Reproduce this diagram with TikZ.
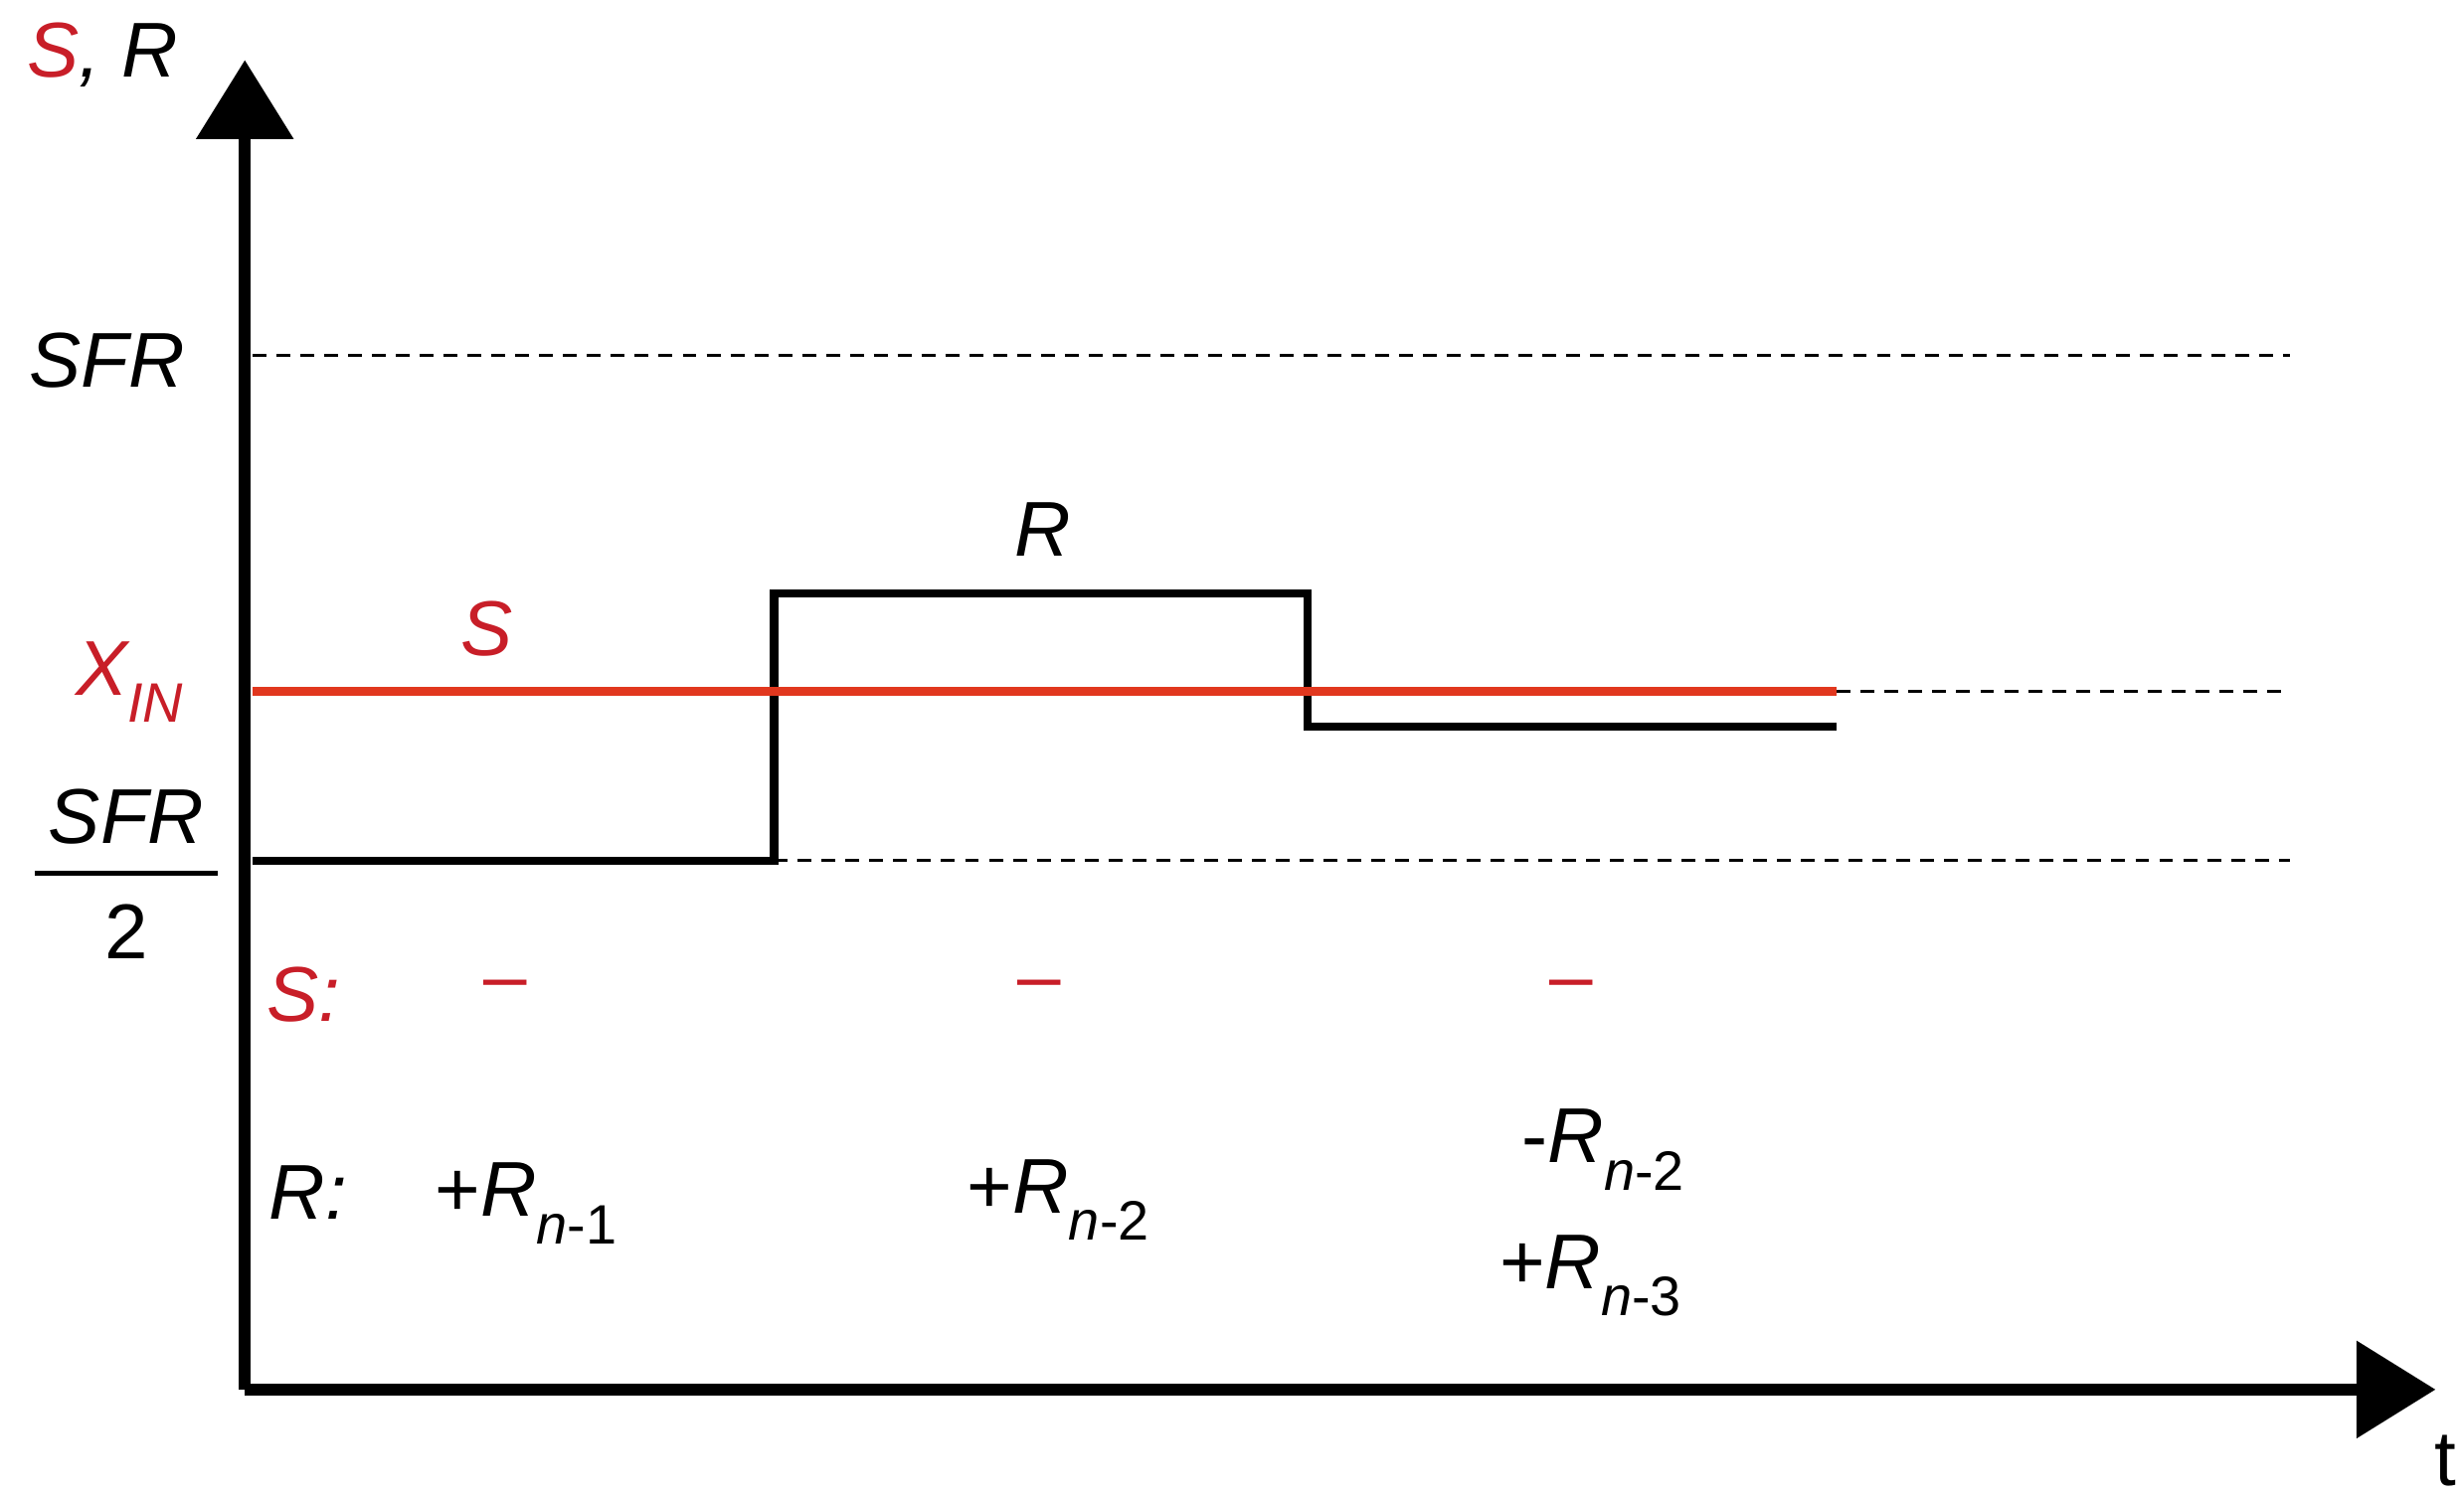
\documentclass[tikz,border=0pt]{standalone}
\usepackage{fontspec}
\setmainfont{Liberation Sans}
\usetikzlibrary{arrows.meta}
\definecolor{sred}{RGB}{200,30,40}
\definecolor{lred}{RGB}{225,55,30}
\begin{document}
\begin{tikzpicture}[x=0.01cm,y=-0.01cm,
  lab/.style={font=\fontsize{14}{16}\selectfont\itshape, inner sep=0pt},
  axis/.style={line width=2.1pt, -{Triangle[length=0.5cm,width=0.6cm]}},
  dsh/.style={line width=0.5pt, dash pattern=on 2.5pt off 1.8pt},
  rl/.style={line width=1.5pt},
  sl/.style={line width=1.6pt, lred}]
\useasboundingbox (0,0) rectangle (1560,948.7);
\coordinate (O) at (155,880);
\coordinate (Ytop) at (155,38);
\coordinate (Xend) at (1542,880);
\draw[axis] (O) -- (Ytop);
\draw[axis] (O) -- (Xend);
% dashed
\coordinate (a1) at (160,225); \coordinate (a2) at (1450,225);
\coordinate (b1) at (1163,438); \coordinate (b2) at (1450,438);
\coordinate (c1) at (490,545); \coordinate (c2) at (1450,545);
\draw[dsh] (a1) -- (a2);
\draw[dsh] (b1) -- (b2);
\draw[dsh] (c1) -- (c2);
% R line
\coordinate (r0) at (160,545);
\coordinate (r1) at (490,545);
\coordinate (r2) at (490,376);
\coordinate (r3) at (828,376);
\coordinate (r4) at (828,460);
\coordinate (r5) at (1163,460);
\draw[rl] (r0) -- (r1) -- (r2) -- (r3) -- (r4) -- (r5);
% S line
\coordinate (s0) at (160,438);
\draw[sl] (s0) -- (b1);
% labels
\node[lab] (lSR) at (65,35) {\textcolor{sred}{S}, R};
\node[lab] (lSFR) at (68,228) {SFR};
\node[lab, text=sred] (lXIN) at (82,432) {X\raisebox{-0.35em}{\fontsize{10}{12}\selectfont IN}};
\node[lab] (lSFRt) at (80,517) {SFR};
\node[lab, font=\fontsize{14}{16}\selectfont] (l2) at (80,590) {2};
\coordinate (f1) at (22,553); \coordinate (f2) at (138,553);
\draw[line width=1pt] (f1) -- (f2);
\node[lab, text=sred] (lS) at (308,398) {S};
\node[lab] (lR) at (660,335) {R};
\node[lab, text=sred] (lSc) at (192,630) {S:};
\node[lab, text=sred, font=\fontsize{14}{16}\selectfont] (d1) at (320,628) {--};
\node[lab, text=sred, font=\fontsize{14}{16}\selectfont] (d2) at (658,628) {--};
\node[lab, text=sred, font=\fontsize{14}{16}\selectfont] (d3) at (995,628) {--};
\node[lab] (lRc) at (195,755) {R:};
\node[lab] (p1) at (333,762) {\upshape+\itshape R\raisebox{-0.35em}{\fontsize{10}{12}\selectfont n\upshape-1}};
\node[lab] (p2) at (670,760) {\upshape+\itshape R\raisebox{-0.35em}{\fontsize{10}{12}\selectfont n\upshape-2}};
\node[lab] (p3) at (1015,728) {\upshape-\itshape R\raisebox{-0.35em}{\fontsize{10}{12}\selectfont n\upshape-2}};
\node[lab] (p4) at (1007,808) {\upshape+\itshape R\raisebox{-0.35em}{\fontsize{10}{12}\selectfont n\upshape-3}};
\node[lab, font=\fontsize{14}{16}\selectfont] (lt) at (1548,925) {t};
\end{tikzpicture}
\end{document}
